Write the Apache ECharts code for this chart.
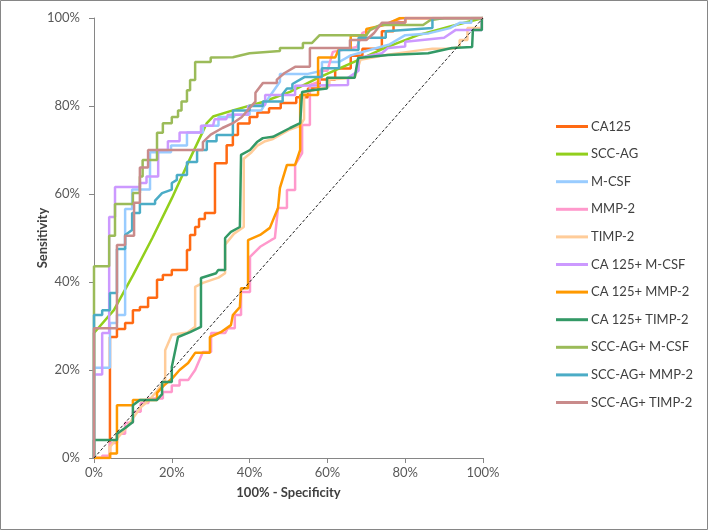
<!DOCTYPE html>
<html>
<head>
<meta charset="utf-8">
<script src="https://cdn.jsdelivr.net/npm/echarts@6/dist/echarts.min.js"></script>
<style>
html,body{margin:0;padding:0;background:#fff;}
#c{width:708px;height:530px;}
</style>
</head>
<body>
<div id="c"></div>
<script>
const xTicks = [0, 20, 40, 60, 80, 100];
const yTicks = [0, 20, 40, 60, 80, 100];
const seriesNames = ['CA125','SCC-AG','M-CSF','MMP-2','TIMP-2','CA 125+ M-CSF','CA 125+ MMP-2','CA 125+ TIMP-2','SCC-AG+ M-CSF','SCC-AG+ MMP-2','SCC-AG+ TIMP-2'];

const ca125 = [[0,0],[4.1,0],[4.1,27.5],[5.9,27.5],[5.9,29.3],[8,29.3],[8,30.7],[10,30.7],[10,33.6],[11.8,33.6],[11.8,34.3],[13.9,34.3],[13.9,36.4],[16.2,36.4],[16.2,40.5],[17.7,40.5],[17.7,41.6],[20,41.6],[20,42.7],[23.9,42.7],[23.9,47.3],[24.7,47.3],[24.7,50.7],[26,50.7],[26,52.5],[27,52.5],[27,54.3],[28.5,54.3],[28.5,55.7],[31.1,55.7],[31.1,67],[34.1,67],[34.1,71.1],[35.7,71.1],[35.7,73.4],[37,73.4],[37,76],[40,76],[40,77.5],[42,77.5],[42,78.5],[45,78.5],[45,79.5],[48,79.5],[48,80.7],[52,80.7],[52,82],[55,82],[55,84],[58,84],[58,86],[62,86],[62,88.5],[66,88.5],[66,91.4],[69,91.4],[69,93],[74,93],[74,97],[77,97],[77,99],[80,99],[80,100],[100,100]];
const sccAg = [[0,0],[0,28.4],[0.3,28.4],[5.1,33.6],[10,41.5],[15,50],[20,59],[24.5,67.7],[29,76.1],[30.6,77.6],[35.7,79],[43.4,80.9],[50.4,83.2],[57.6,86.4],[66.3,89.8],[74.8,93.2],[83.3,96.1],[92,98.2],[100,100]];
const mCsf = [[0,0],[0,20.5],[4.1,20.5],[4.1,30.7],[5.9,30.7],[5.9,32.5],[8,32.5],[8,56.6],[9.8,56.6],[9.8,61],[14.4,61],[14.4,69.5],[19.8,69.5],[19.8,71],[23.9,71],[23.9,74],[28,74],[28,75.5],[32,75.5],[32,77.5],[36,77.5],[36,78],[40,78],[40,79],[43,79],[45,82],[47.8,85.5],[47.8,87.3],[55,87.3],[58.6,88],[58.6,90],[63,90],[66,91.5],[72,93],[76,94],[80,96.1],[86,96.5],[91.5,97.7],[94,98.9],[97,98.9],[97,100],[100,100]];
const mmp2 = [[0,0],[2.1,0],[2.1,0.5],[4.1,0.5],[4.1,3.4],[5.9,3.4],[5.9,5.5],[8,5.5],[8,8],[10,8],[10,10.5],[12,10.5],[12,12.5],[14,12.5],[14,13.5],[17.7,13.5],[17.7,15],[20,15],[20,16.5],[22,16.5],[22,17.7],[24.2,17.7],[26,20],[28,24.1],[30.1,24.1],[30.1,28.4],[33.7,28.4],[34.4,29.5],[36.2,29.5],[36.2,32.5],[37.8,32.5],[37.8,37.7],[40.1,37.7],[40.1,45.7],[42.7,48],[45.5,49.5],[46.5,50],[47.3,56.8],[49.6,56.8],[49.6,60.9],[51.7,60.9],[51.7,66.6],[53.5,69.3],[53.5,75.7],[55.5,75.7],[55.5,84.8],[58,85.5],[58,88],[60,88],[61.4,92.3],[67.6,93.4],[69,96.6],[76,99],[79.4,100],[100,100]];
const timp2 = [[0,0],[4.1,0],[4.1,2.5],[6,4.5],[8,6.5],[10,9],[12,11.5],[14,13],[16,15],[18.3,17.7],[18.3,24.5],[20,28],[24,28.5],[26,29.8],[26,38.9],[28,39.8],[32,41],[33.7,42],[33.7,48.5],[36,51],[38.5,52.5],[38.5,68],[40.5,69.5],[42,71],[44,72],[46,72.5],[50,74.5],[53,75.5],[54,77],[54,83],[56,83.5],[60.5,84.5],[60.5,86],[67,86.4],[68.5,90.5],[75,91.6],[84,92.7],[87,93],[92,93],[94,93.5],[94,95],[96,95],[96,97.7],[99.7,97.7],[99.7,100],[100,100]];
const ca125Mcsf = [[0,0],[0,19],[2.1,19],[2.1,28.4],[3.9,28.4],[3.9,54.8],[5.4,54.8],[5.4,61.6],[11.8,61.6],[11.8,62.5],[13.5,62.5],[13.5,64],[16.5,64],[16.5,70],[19,70],[19,72],[22,72],[22,74],[27.5,74],[27.5,75.5],[30.6,75.5],[31,77],[34,77],[34.4,78],[39.6,78],[39.6,80],[44,80.2],[44,82.5],[51.7,82.5],[51.7,84.6],[65.3,84.8],[65.3,86.4],[68,88],[68,90.9],[74,92],[75.6,93.2],[80,93.5],[80,94.6],[90,95.5],[93,97.3],[99.7,97.3],[99.7,100],[100,100]];
const ca125Mmp2 = [[0,0],[4.1,0],[4.1,1],[5.9,1],[5.9,12],[10,12],[10,13.2],[16.2,13.2],[16.2,14.8],[18,16.5],[20,18],[22,20],[24.2,21.6],[26,23.9],[29.8,23.9],[29.8,27.5],[32.6,28.6],[35.2,30.2],[35.7,32.5],[37.5,34.3],[37.8,38.6],[39.6,38.6],[39.6,49.5],[42.7,50.7],[45.2,52.3],[47.3,56.8],[47.8,61.4],[49.6,66.6],[51.7,66.6],[53,70],[53,82.5],[57.6,82.5],[57.6,91],[62,91],[63,93],[66,93],[66,96],[70,96],[70,97.5],[75,98.5],[78.7,100],[100,100]];
const ca125Timp2 = [[0,0],[0,4.1],[5.9,4.1],[5.9,5.5],[8,6.8],[10,8.2],[10,12],[11.8,13.2],[16.2,13.2],[17.5,14.5],[17.5,17.3],[20,17.3],[20,20.7],[21.6,27.5],[24.7,28.6],[27.5,29.8],[27.5,40.9],[31.4,42],[31.9,42.7],[33.7,42.7],[33.7,50],[35.2,51.4],[37.5,52.5],[37.8,52.5],[37.8,68.9],[40.1,70],[41.9,71.8],[43.4,72.7],[46,73],[50.4,75],[53,76.1],[53.5,76.1],[53.5,83.2],[56,83.6],[59.9,84],[59.9,86.4],[67,86.4],[67.9,90.9],[75.6,91.6],[85.9,92],[92,93.2],[97.2,93.4],[97.4,97.3],[99.7,97.3],[99.7,100],[100,100]];
const sccMcsf = [[0,0],[0,43.6],[3.9,43.6],[3.9,50.5],[5.4,50.5],[5.4,57.7],[10,57.7],[10,60.2],[11.8,60.2],[11.8,64],[12.5,64],[12.5,67.7],[16.2,67.7],[16.2,73.9],[17.7,73.9],[17.7,76.1],[20,76.1],[20,77.5],[21.6,77.5],[21.6,79],[22.5,79],[22.5,81],[23.9,81],[23.9,83.6],[24.7,83.6],[24.7,85.9],[26,85.9],[26,90],[30,90],[30,91],[35.7,91.1],[40,92],[47.8,92.5],[47.8,93.2],[53.7,93.2],[53.7,94.3],[56,94.3],[58,96.1],[70,96.1],[71,97.3],[73.5,98.4],[84.6,98.4],[86.4,99.5],[90,100],[100,100]];
const sccMmp2 = [[0,0],[0,32.5],[2.1,32.5],[2.1,33.6],[4.1,33.6],[4.1,37.5],[5.9,37.5],[5.9,47.5],[8,47.5],[8,50.7],[9.8,51.8],[9.8,55.7],[11.8,55.7],[11.8,57.7],[15.7,57.7],[15.7,58.5],[17.5,60.2],[20,61],[20,62.5],[21.3,63.2],[21.3,64.3],[23.9,64.3],[23.9,67.3],[26.5,67.3],[26.5,70],[29,70],[29,72],[31.5,72],[31.5,73.4],[35.7,73.4],[35.7,79],[40,79],[40,80],[43.4,80],[43.4,81],[48.5,81],[48.5,82.7],[49.6,84],[51,84],[51,85],[54.2,86.6],[58.6,86.6],[58.6,88.6],[63,88.6],[63,92.7],[68,92.7],[68,95.5],[75,95.5],[75,97],[87,97.7],[87,100],[100,100]];
const sccTimp2 = [[0,0],[0,29.5],[5.9,29.5],[5.9,48.4],[8,48.4],[8,50.5],[10.3,50.5],[10.3,58],[11.8,58],[11.8,66],[13.9,66],[13.9,70],[28,70],[28,71.8],[30,73.5],[33,75],[35.7,76.1],[38,77.5],[40,79.5],[41.5,81],[41.5,83],[43.4,85.2],[47,85.2],[47,86],[49,87.5],[51.7,88.9],[55.5,88.9],[55.5,93.2],[65.8,93.2],[65.8,95],[70,95],[72,96.6],[74,98.9],[80,98.9],[80,100],[100,100]];
const diagonal = [[0,0],[100,100]];

const seriesData = [ca125, sccAg, mCsf, mmp2, timp2, ca125Mcsf, ca125Mmp2, ca125Timp2, sccMcsf, sccMmp2, sccTimp2];
const colors = ['#FF6A13','#92CF1C','#99CCFF','#FF99CC','#FFCC99','#CC99FF','#FF9900','#339966','#9BBB59','#4BACC6','#C98B8B'];

const FONT = 'Lato, "Open Sans", sans-serif';
const series = seriesData.map((d, i) => ({
  name: seriesNames[i],
  type: 'line',
  data: d,
  symbol: 'none',
  showSymbol: false,
  lineStyle: { width: 2.5, color: colors[i] },
  itemStyle: { color: colors[i] },
  z: 2 + i
}));
series.push({
  name: 'diag',
  type: 'line',
  data: diagonal,
  symbol: 'none',
  lineStyle: { width: 1, color: '#222', type: [3, 2] },
  z: 20
});

const chart = echarts.init(document.getElementById('c'));
chart.setOption({
  animation: false,
  backgroundColor: '#fff',
  graphic: [{
    type: 'rect', silent: true,
    shape: { x: 0.5, y: 0.5, width: 707, height: 529 },
    style: { fill: 'none', stroke: '#868686', lineWidth: 1 }
  }],
  grid: { left: 94, right: 225, top: 18, bottom: 72 },
  legend: {
    data: seriesNames,
    orient: 'vertical',
    left: 551,
    top: 115,
    icon: 'rect',
    itemWidth: 32,
    itemHeight: 3,
    itemGap: 14.6,
    textStyle: { fontFamily: FONT, fontSize: 13, color: '#404040', padding: [0,0,0,-2] }
  },
  xAxis: {
    type: 'value', min: 0, max: 100, interval: 20,
    name: '100% - Specificity', nameLocation: 'middle', nameGap: 28,
    nameMoveOverlap: false,
    nameTextStyle: { fontFamily: FONT, fontSize: 13, fontWeight: 'bold', color: '#404040' },
    axisLine: { show: true, lineStyle: { color: '#868686', width: 1 } },
    axisTick: { show: true, inside: false, length: 5, lineStyle: { color: '#868686' } },
    axisLabel: { formatter: v => v + '%', fontFamily: FONT, fontSize: 13, color: '#595959', margin: 8 },
    splitLine: { show: false }
  },
  yAxis: {
    type: 'value', min: 0, max: 100, interval: 20,
    name: 'Sensitivity', nameLocation: 'middle', nameGap: 45, nameRotate: 90,
    nameMoveOverlap: false,
    nameTextStyle: { fontFamily: FONT, fontSize: 13, fontWeight: 'bold', color: '#404040' },
    axisLine: { show: true, lineStyle: { color: '#868686', width: 1 } },
    axisTick: { show: true, inside: false, length: 5, lineStyle: { color: '#868686' } },
    axisLabel: { formatter: v => v + '%', fontFamily: FONT, fontSize: 13, color: '#595959', margin: 14 },
    splitLine: { show: false }
  },
  series: series
});
</script>
</body>
</html>
